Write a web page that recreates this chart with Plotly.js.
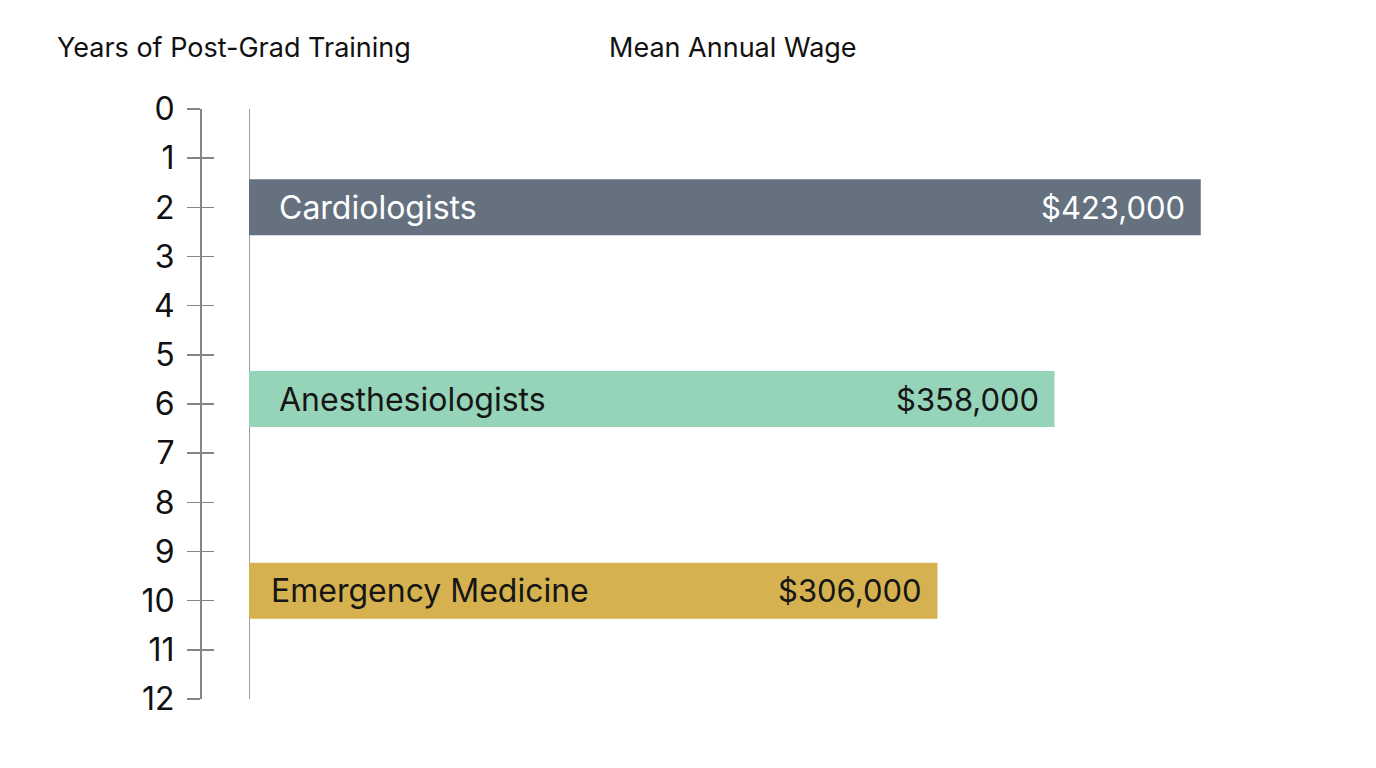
<!DOCTYPE html>
<html>
<head>
<meta charset="utf-8">
<script src="https://cdn.plot.ly/plotly-3.0.1.min.js"></script>
<style>html,body{margin:0;padding:0;background:#fff;}#chart{width:1376px;height:768px;}</style>
</head>
<body>
<div id="chart"></div>
<script>
// ---- data ----
const specialties = ["Cardiologists", "Anesthesiologists", "Emergency Medicine"];
const meanWage = [423000, 358000, 306000];
const trainingYears = [2, 5.9, 9.8];
const wageLabels = ["$423,000", "$358,000", "$306,000"];
const yTickVals = [0,1,2,3,4,5,6,7,8,9,10,11,12];

// ---- styles ----
const barColors = ["#65717f", "#95d4b8", "#d5b24f"];
const textColors = ["#ffffff", "#161616", "#161616"];
const nameShift = [28, 28, 20];
const FONT = "Inter, 'Liberation Sans', sans-serif";
const W = 1376, H = 768;
const mL = 100, mR = 76, mT = 109, mB = 69;
const plotW = W - mL - mR, plotH = H - mT - mB;
const px = (p) => (p - mL) / plotW;           // pixel -> paper x
const py = (p) => 1 - (p - mT) / plotH;       // pixel -> paper y
const pxPerDollar = 2.25 / 1000;
const xStart = 249, xEnd = 1300;

const trace = {
  type: "bar",
  orientation: "h",
  x: meanWage,
  y: trainingYears,
  width: 1.14,
  marker: {color: barColors, line: {width: 0}},
  hoverinfo: "skip",
  xaxis: "x", yaxis: "y"
};
const tickTrace = {
  type: "scatter", x: [null], y: [null], xaxis: "x", yaxis: "y2", showlegend: false, hoverinfo: "skip"
};

const annotations = [];
specialties.forEach((s, i) => {
  annotations.push({
    x: 0, y: trainingYears[i], xref: "x", yref: "y",
    text: s, showarrow: false, xanchor: "left", yanchor: "middle", xshift: nameShift[i],
    font: {family: FONT, size: 32, color: textColors[i]}
  });
  annotations.push({
    x: meanWage[i], y: trainingYears[i], xref: "x", yref: "y",
    text: wageLabels[i], showarrow: false, xanchor: "right", yanchor: "middle", xshift: -14,
    font: {family: FONT, size: 31, color: textColors[i]}
  });
});
annotations.push({
  x: px(55), y: py(47), xref: "paper", yref: "paper", text: "Years of Post-Grad Training",
  showarrow: false, xanchor: "left", yanchor: "middle", font: {family: FONT, size: 27, color: "#111"}
});
annotations.push({
  x: px(607), y: py(47), xref: "paper", yref: "paper", text: "Mean Annual Wage",
  showarrow: false, xanchor: "left", yanchor: "middle", font: {family: FONT, size: 27, color: "#111"}
});

const layout = {
  width: W, height: H,
  margin: {l: mL, r: mR, t: mT, b: mB, pad: 0},
  paper_bgcolor: "#ffffff", plot_bgcolor: "#ffffff",
  showlegend: false,
  xaxis: {
    domain: [px(xStart), 1],
    range: [0, (xEnd - xStart) / pxPerDollar],
    visible: false, fixedrange: true
  },
  yaxis: {
    range: [12, 0], anchor: "free", position: px(200),
    tickvals: yTickVals, ticktext: yTickVals.map(String),
    ticks: "outside", ticklen: 13, tickwidth: 1.6, tickcolor: "#858585",
    showline: true, linecolor: "#858585", linewidth: 1.6,
    showgrid: false, zeroline: false, ticklabelstandoff: 6,
    tickfont: {family: FONT, size: 32, color: "#111"}, fixedrange: true
  },
  yaxis2: {
    range: [12, 0], overlaying: "y", anchor: "free", position: px(200),
    tickvals: yTickVals, ticks: "inside", ticklen: 13, tickwidth: 1.6, tickcolor: "#858585",
    showticklabels: false, showline: false, showgrid: false, zeroline: false, fixedrange: true
  },
  shapes: [{
    type: "line", xref: "x", yref: "y", x0: 0, x1: 0, y0: 0, y1: 12,
    line: {color: "#858585", width: 1.6}, layer: "below"
  }],
  annotations: annotations
};

Plotly.newPlot("chart", [trace, tickTrace], layout, {displayModeBar: false, staticPlot: true});
</script>
</body>
</html>
